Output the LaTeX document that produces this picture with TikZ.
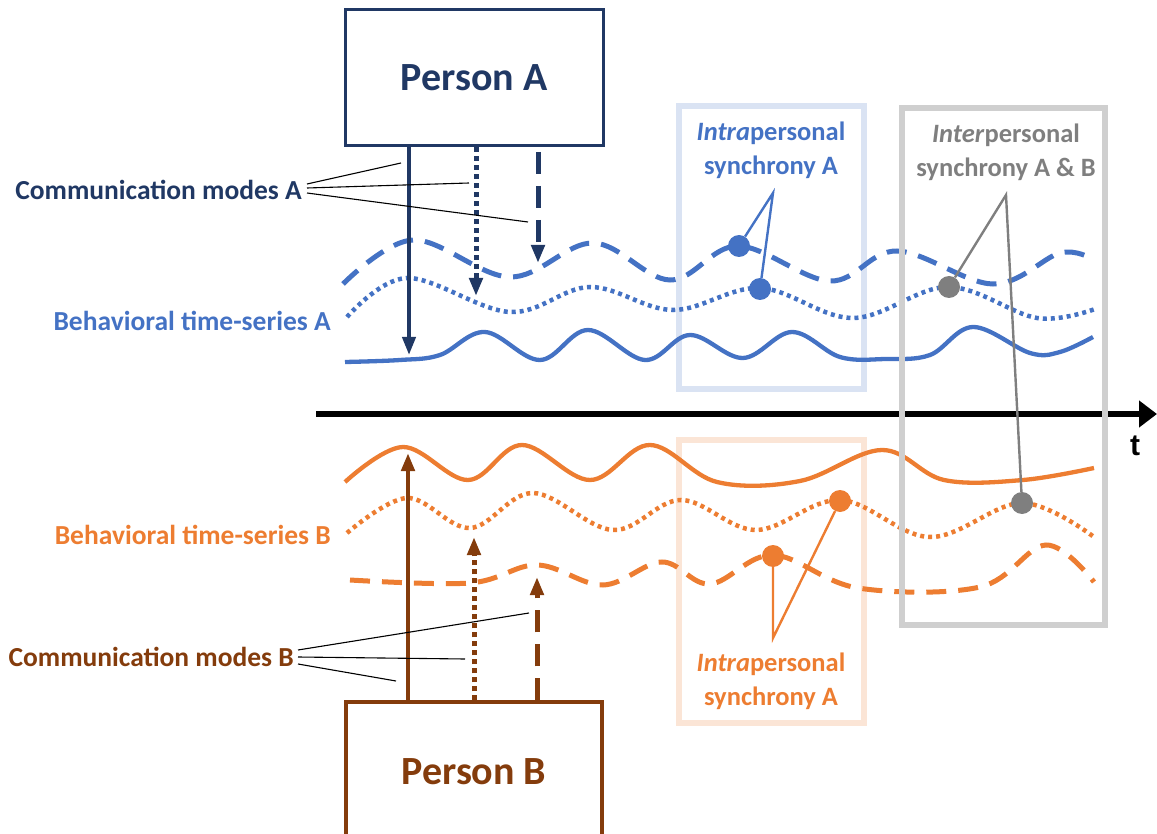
\documentclass[tikz,border=0pt]{standalone}
\usepackage{fontspec}
\setmainfont{Carlito}
\newfontfamily\arialfont{Liberation Sans}
\usetikzlibrary{arrows.meta}
\definecolor{navy}{HTML}{203864}
\definecolor{blueA}{HTML}{4472C4}
\definecolor{lightblue}{HTML}{DAE3F3}
\definecolor{greybox}{HTML}{CFCFCF}
\definecolor{greytxt}{HTML}{7F7F7F}
\definecolor{orangeB}{HTML}{ED7D31}
\definecolor{lightorange}{HTML}{FBE5D6}
\definecolor{brownB}{HTML}{843C0C}
\begin{document}
\begin{tikzpicture}[x=1pt,y=-1pt,
  lbl/.style={font=\fontsize{26.5}{34}\selectfont\bfseries, inner sep=0pt, align=center},
  sidelbl/.style={font=\fontsize{27.5}{34}\selectfont\bfseries, inner sep=0pt, anchor=east},
  persontext/.style={font=\fontsize{40}{48}\selectfont\bfseries},
  solidcurve/.style={line width=4.3pt, line join=round},
  dashedcurve/.style={line width=5pt, dash pattern=on 20pt off 12pt},
  dottedcurve/.style={line width=4.5pt, dash pattern=on 4pt off 4pt},
  framebox/.style={rectangle, line width=6pt, inner sep=0pt, minimum width=185pt},
  dotnode/.style={circle, inner sep=0pt, minimum size=22pt},
  pointer/.style={line width=2.4pt},
  thinline/.style={line width=1.1pt, black},
  commtip/.style={-{Triangle[width=13pt,length=18pt]}},
  commsolid/.style={line width=4pt, commtip},
  commdotted/.style={line width=5pt, dash pattern=on 5pt off 4pt, commtip},
  commdashed/.style={line width=5pt, dash pattern=on 22pt off 12pt, commtip}
]
\clip (0,0) rectangle (1157,834);
\useasboundingbox (0,0) rectangle (1157,834);

% synchrony frames
\node[framebox, draw=lightblue, minimum height=283pt] (frameA) at (771.5,247.5) {};
\node[framebox, draw=lightorange, minimum height=283pt] (frameB) at (771.5,581.5) {};

% behavioral time series A
\draw[blueA, dashedcurve] plot[smooth, tension=0.6] coordinates {(343,284) (413,240) (510,277) (593,243) (670,280) (738,246) (830,281) (897,251) (993,284) (1060,253) (1092,259)};
\draw[blueA, dottedcurve] plot[smooth, tension=0.6] coordinates {(347,317) (407,278) (510,312) (590,287) (673,310) (760,288) (853,318) (948,287) (1037,318) (1095,309)};
\draw[blueA, solidcurve] plot[smooth, tension=0.6] coordinates {(345,362) (400,360) (440,355) (485,332) (540,360) (588,330) (645,360) (690,335) (743,358) (792,332) (840,357) (885,359) (930,355) (973,327) (1030,353) (1060,352) (1093,337)};

% behavioral time series B
\draw[orangeB, solidcurve] plot[smooth, tension=0.6] coordinates {(345,482) (403,447) (468,480) (522,445) (590,480) (650,445) (717,482) (800,481) (882,450) (944,480) (1023,480) (1094,468)};
\draw[orangeB, dottedcurve] plot[smooth, tension=0.6] coordinates {(347,533) (407,498) (470,528) (533,493) (613,530) (681,500) (756,530) (840,500) (930,537) (1022,503) (1094,537)};
\draw[orangeB, dashedcurve] plot[smooth, tension=0.6] coordinates {(350,580) (470,583) (537,565) (603,585) (662,562) (710,584) (773,555) (858,588) (980,587) (1046,545) (1094,582)};

% time axis
\coordinate (tstart) at (316,414);
\coordinate (tend) at (1157,414);
\draw[line width=6.5pt, -{Triangle[width=26pt,length=18pt]}] (tstart) -- (tend);
\node[font=\arialfont\fontsize{30}{36}\selectfont\bfseries, inner sep=0pt] (tlabel) at (1135,446) {t};

% interpersonal frame
\node[rectangle, draw=greybox, line width=6pt, inner sep=0pt, minimum width=203pt, minimum height=517pt] (frameAB) at (1003.5,366.5) {};

% labels of the frames
\node[lbl, text=blueA] (intraA) at (771,150) {\textit{Intra}personal\\synchrony A};
\node[lbl, text=greytxt] (interAB) at (1006,152) {\textit{Inter}personal\\synchrony A \& B};
\node[lbl, text=orangeB] (intraB) at (771,681) {\textit{Intra}personal\\synchrony A};

% synchrony dots
\node[dotnode, fill=blueA] (dA1) at (739,246) {};
\node[dotnode, fill=blueA] (dA2) at (760,289) {};
\node[dotnode, fill=greytxt] (dG1) at (949,287) {};
\node[dotnode, fill=greytxt] (dG2) at (1022,503) {};
\node[dotnode, fill=orangeB] (dO1) at (773,556) {};
\node[dotnode, fill=orangeB] (dO2) at (840,501) {};

\coordinate (apexA) at (773,193);
\coordinate (apexG) at (1006,195);
\coordinate (apexO) at (773,638);
\draw[blueA, pointer] (dA1) -- (apexA) -- (dA2);
\draw[greytxt, pointer] (dG1) -- (apexG) -- (dG2);
\draw[orangeB, pointer] (dO1) -- (apexO) -- (dO2);

% persons
\node[rectangle, draw=navy, line width=3pt, minimum width=258pt, minimum height=136pt, persontext, text=navy] (personA) at (474,78) {Person A};
\node[rectangle, draw=brownB, line width=3.5pt, minimum width=256pt, minimum height=140pt, persontext, text=brownB] (personB) at (474,772) {Person B};

% communication modes A
\coordinate (a1) at (409,355);
\coordinate (a2) at (476,296);
\coordinate (a3) at (538,263);
\coordinate (a3s) at (538,152);
\draw[navy, commsolid] (personA.south -| a1) -- (a1);
\draw[navy, commdotted] (personA.south -| a2) -- (a2);
\draw[navy, commdashed] (a3s) -- (a3);

% communication modes B
\coordinate (b1) at (408,453);
\coordinate (b2) at (474,537);
\coordinate (b3) at (537,577);
\draw[brownB, commsolid, line width=4.5pt] (personB.north -| b1) -- (b1);
\draw[brownB, commdotted] (personB.north -| b2) -- (b2);
\draw[brownB, commdashed] (personB.north -| b3) -- (b3);

% text labels
\node[sidelbl, text=navy] (commA) at (302,190) {Communication modes A};
\node[sidelbl, text=blueA] (seriesA) at (331,321) {Behavioral time-series A};
\node[sidelbl, text=orangeB] (seriesB) at (331,535) {Behavioral time-series B};
\node[sidelbl, text=brownB] (commB) at (294,657) {Communication modes B};

\coordinate (cA1) at (401,163);
\coordinate (cA2) at (469,183);
\coordinate (cA3) at (528,222);
\draw[thinline] ([xshift=5pt,yshift=6pt]commA.east) -- (cA1);
\draw[thinline] ([xshift=5pt,yshift=2pt]commA.east) -- (cA2);
\draw[thinline] ([xshift=5pt,yshift=-3pt]commA.east) -- (cA3);

\coordinate (cB1) at (529,613);
\coordinate (cB2) at (465,659);
\coordinate (cB3) at (396,681);
\draw[thinline] ([xshift=4pt,yshift=7pt]commB.east) -- (cB1);
\draw[thinline] ([xshift=4pt,yshift=0pt]commB.east) -- (cB2);
\draw[thinline] ([xshift=4pt,yshift=-7pt]commB.east) -- (cB3);
\end{tikzpicture}
\end{document}
